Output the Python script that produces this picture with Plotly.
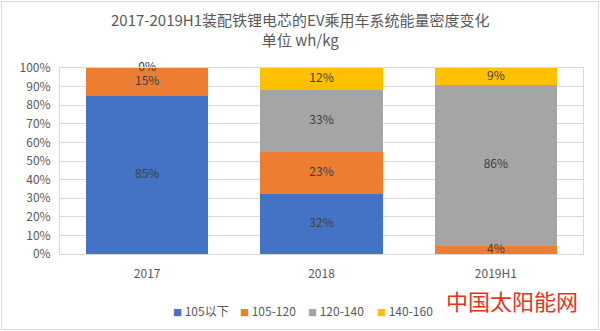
import plotly.graph_objects as go

categories = ["2017", "2018", "2019H1"]
series_names = ["105以下", "105-120", "120-140", "140-160"]
colors = ["#4472C4", "#ED7D31", "#A5A5A5", "#FFC000"]
v_105 = [85, 32, None]
v_105_120 = [15, 23, 4.4]
v_120_140 = [0, 33, 86.4]
v_140_160 = [None, 12, 9.2]
all_series = [v_105, v_105_120, v_120_140, v_140_160]

W, H = 600, 331
L, R, T, B = 60, 17, 68, 77
pw, ph = W - L - R, H - T - B

def px_x(p):
    return (p - L) / pw

def px_y(p):
    return (H - B - p) / ph

font = "Noto Sans CJK SC"
fig = go.Figure()
for name, col, vals in zip(series_names, colors, all_series):
    fig.add_trace(go.Bar(
        x=categories, y=[v if v is not None else 0 for v in vals], name=name,
        marker=dict(color=col, line=dict(width=0)), width=0.7,
        hoverinfo="skip", showlegend=False))

# data labels at segment centres, computed from the data
base = [0.0] * len(categories)
lx, ly, lt = [], [], []
for vals in all_series:
    for i, v in enumerate(vals):
        if v is None:
            continue
        lx.append(categories[i])
        ly.append(base[i] + v / 2)
        lt.append(f"{round(v)}%")
        base[i] += v
fig.add_trace(go.Scatter(
    x=lx, y=ly, text=lt, mode="text", showlegend=False, hoverinfo="skip",
    cliponaxis=False,
    textfont=dict(family=font, size=12, color="#404040")))

annotations = [
    dict(text="2017-2019H1装配铁锂电芯的EV乘用车系统能量密度变化<br>单位 wh/kg",
         xref="paper", yref="paper", x=px_x(300), y=px_y(7), xanchor="center",
         yanchor="top", showarrow=False, align="center",
         font=dict(family=font, size=15, color="#595959")),
    dict(text="中国太阳能网", xref="paper", yref="paper",
         x=px_x(444), y=px_y(300), xanchor="left", yanchor="middle",
         showarrow=False, font=dict(family=font, size=22, color="#E8331C")),
]
# custom compact legend
legend_x = [171, 238, 306, 375]
for name, col, lxp in zip(series_names, colors, legend_x):
    annotations.append(dict(
        text=f"<span style='color:{col};font-size:9px'>■</span> {name}",
        xref="paper", yref="paper", x=px_x(lxp), y=px_y(310),
        xanchor="left", yanchor="middle", showarrow=False,
        font=dict(family=font, size=12, color="#595959")))

fig.update_layout(
    width=W, height=H, barmode="stack",
    margin=dict(l=L, r=R, t=T, b=B, autoexpand=False),
    paper_bgcolor="white", plot_bgcolor="white",
    font=dict(family=font, size=12, color="#595959"),
    showlegend=False,
    xaxis=dict(showgrid=False, showline=True, linecolor="#D9D9D9", mirror=True,
               ticks="", tickfont=dict(size=12, color="#595959"),
               ticklabelstandoff=9, automargin=False),
    yaxis=dict(range=[0, 100], dtick=10, ticksuffix="%", showgrid=True,
               gridcolor="#D9D9D9", showline=True, linecolor="#D9D9D9", mirror=True,
               zeroline=False, tickfont=dict(size=12, color="#595959"),
               ticklabelstandoff=6, automargin=False),
    shapes=[dict(type="rect", xref="paper", yref="paper",
                 x0=px_x(1.5), x1=px_x(598.5), y0=px_y(329.5), y1=px_y(1.5),
                 line=dict(color="#D9D9D9", width=1))],
    annotations=annotations,
)

fig.write_html("out.html")
